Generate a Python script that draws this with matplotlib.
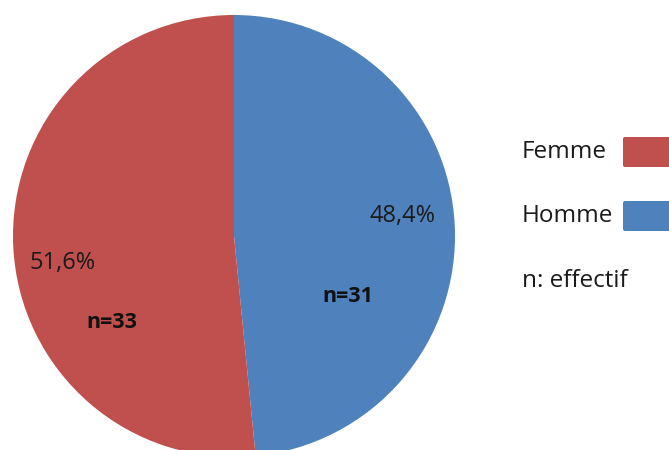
import matplotlib
matplotlib.use("Agg")
import matplotlib.pyplot as plt
from matplotlib.patches import FancyBboxPatch

categories = ["Homme", "Femme"]
counts = [31, 33]
pct_labels = ["48,4%", "51,6%"]
n_labels = ["n=31", "n=33"]
colors = ["#4F81BD", "#C0504D"]
legend_order = ["Femme", "Homme"]
legend_colors = ["#C0504D", "#4F81BD"]
note = "n: effectif"

W, H = 669, 450
fig = plt.figure(figsize=(W / 100, H / 100), dpi=100)
ax = fig.add_axes([0, 0, 1, 1])
ax.pie(counts, colors=colors, startangle=90, counterclock=False,
       center=(234, H - 236), radius=221, frame=True,
       wedgeprops=dict(linewidth=0))
ax.set_xlim(0, W)
ax.set_ylim(0, H)
ax.set_aspect("equal")
ax.axis("off")

font = "Open Sans"
# percent labels
ax.text(403, H - 216, pct_labels[0], fontsize=17, family=font, ha="center", va="center", color="#1a1a1a")
ax.text(63, H - 263, pct_labels[1], fontsize=17, family=font, ha="center", va="center", color="#1a1a1a")
# n labels
ax.text(348, H - 296, n_labels[0], fontsize=15.5, family=font, fontweight="bold", ha="center", va="center", color="#111111")
ax.text(112, H - 323, n_labels[1], fontsize=15.5, family=font, fontweight="bold", ha="center", va="center", color="#111111")

# legend
ys = [152, 216]
for lab, col, y in zip(legend_order, legend_colors, ys):
    ax.text(522, H - y, lab, fontsize=17.5, family=font, ha="left", va="center", color="#1a1a1a")
    box = FancyBboxPatch((623, H - y - 15), 60, 30, boxstyle="round,pad=0,rounding_size=2",
                         facecolor=col, edgecolor="none", clip_on=False)
    ax.add_patch(box)
ax.text(522, H - 281, note, fontsize=17.5, family=font, ha="left", va="center", color="#1a1a1a")

fig.savefig("out.png", dpi=100)
